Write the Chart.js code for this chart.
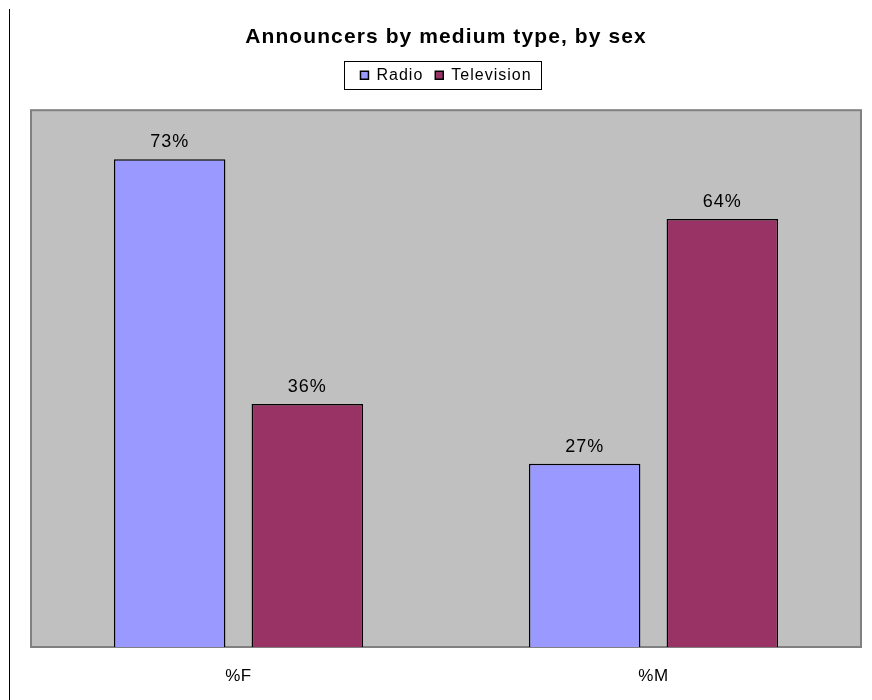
<!DOCTYPE html>
<html>
<head>
<meta charset="utf-8">
<script src="https://cdn.jsdelivr.net/npm/chart.js@4/dist/chart.umd.min.js"></script>
<style>
  html, body { margin: 0; padding: 0; background: #ffffff; }
  #wrap { position: relative; width: 872px; height: 700px; }
  #leftline { position: absolute; left: 9px; top: 9px; width: 1px; height: 691px; background: #000; }
  canvas { position: absolute; left: 0; top: 0; }
</style>
</head>
<body>
<div id="wrap">
  <canvas id="c" width="872" height="700"></canvas>
  <div id="leftline"></div>
</div>
<script>
const titleText = "Announcers by medium type, by sex";
const categories = ["%F", "%M"];
const radioValues = [72.7, 27.3];
const televisionValues = [36.2, 63.8];
const seriesNames = ["Radio", "Television"];

const FONT = "'Liberation Sans', Arial, sans-serif";

function withSpacing(ctx, sp, fn) {
  ctx.save();
  try { ctx.letterSpacing = sp; } catch (e) {}
  const r = fn();
  ctx.restore();
  return r;
}

const spacingPatch = {
  id: 'spacingPatch',
  beforeLayout(chart) {
    const ctx = chart.ctx;
    const lg = chart.legend;
    if (lg && !lg._patched) {
      lg._patched = true;
      const fit = lg.fit.bind(lg);
      const draw = lg.draw.bind(lg);
      lg.fit = function () {
        withSpacing(ctx, '1px', fit);
        this.height += 17;
      };
      lg.draw = function () { withSpacing(ctx, '1px', draw); };
    }
    const tb = chart.titleBlock;
    if (tb && !tb._patched) {
      tb._patched = true;
      const draw = tb.draw.bind(tb);
      tb.draw = function () { withSpacing(ctx, '1.1px', draw); };
    }
  },
  beforeDraw(chart) {
    try { chart.ctx.letterSpacing = '0.5px'; } catch (e) {}
  }
};

const plotBackground = {
  id: 'plotBackground',
  beforeDraw(chart) {
    const { ctx, chartArea: a } = chart;
    ctx.save();
    ctx.fillStyle = '#C0C0C0';
    ctx.fillRect(a.left, a.top, a.right - a.left, a.bottom - a.top);
    ctx.strokeStyle = '#808080';
    ctx.lineWidth = 2;
    ctx.strokeRect(a.left, a.top, a.right - a.left, a.bottom - a.top);
    ctx.restore();
  }
};

const legendFrame = {
  id: 'legendFrame',
  afterDraw(chart) {
    const boxes = chart.legend.legendHitBoxes;
    if (!boxes || !boxes.length) return;
    let l = Infinity, r = -Infinity, t = Infinity, b = -Infinity;
    boxes.forEach(h => { l = Math.min(l, h.left); r = Math.max(r, h.left + h.width); t = Math.min(t, h.top); b = Math.max(b, h.top + h.height); });
    const ctx = chart.ctx;
    ctx.save();
    ctx.strokeStyle = '#000';
    ctx.lineWidth = 1;
    const x0 = Math.round(l - 16), x1 = Math.round(r + 9);
    const y0 = Math.round(t - 6), y1 = Math.round(b + 6);
    ctx.strokeRect(x0 + 0.5, y0 + 0.5, x1 - x0, y1 - y0);
    ctx.restore();
  }
};

const dataLabels = {
  id: 'dataLabels',
  afterDatasetsDraw(chart) {
    const ctx = chart.ctx;
    ctx.save();
    try { ctx.letterSpacing = '1px'; } catch (e) {}
    ctx.font = "18px " + FONT;
    ctx.fillStyle = '#000';
    ctx.textAlign = 'center';
    ctx.textBaseline = 'alphabetic';
    chart.data.datasets.forEach((ds, i) => {
      chart.getDatasetMeta(i).data.forEach((el, j) => {
        ctx.fillText(Math.round(ds.data[j]) + '%', el.x, el.y - 12);
      });
    });
    ctx.restore();
  }
};

new Chart(document.getElementById('c'), {
  type: 'bar',
  data: {
    labels: categories,
    datasets: [
      { label: seriesNames[0], data: radioValues, backgroundColor: '#9999FF', borderColor: '#000', borderWidth: 1.5 },
      { label: seriesNames[1], data: televisionValues, backgroundColor: '#993366', borderColor: '#000', borderWidth: 1.5 }
    ]
  },
  options: {
    responsive: false,
    animation: false,
    devicePixelRatio: 1,
    layout: { padding: { left: 31, right: 11, top: 0, bottom: 0 } },
    categoryPercentage: 0.6635,
    barPercentage: 0.81,
    plugins: {
      title: {
        display: true, text: titleText, color: '#000',
        font: { family: FONT, size: 21, weight: 'bold' },
        padding: { top: 25, bottom: 5 }
      },
      legend: {
        display: true, position: 'top',
        labels: {
          color: '#000', font: { family: FONT, size: 16 },
          boxWidth: 8, boxHeight: 8, padding: 12
        }
      },
      tooltip: { enabled: false }
    },
    scales: {
      x: {
        grid: { display: false }, border: { display: false },
        ticks: { color: '#000', font: { family: FONT, size: 17 }, padding: 11 },
        afterFit(s) { s.height = 53; }
      },
      y: {
        display: false, min: 0, max: 80
      }
    }
  },
  plugins: [spacingPatch, plotBackground, legendFrame, dataLabels]
});
</script>
</body>
</html>
